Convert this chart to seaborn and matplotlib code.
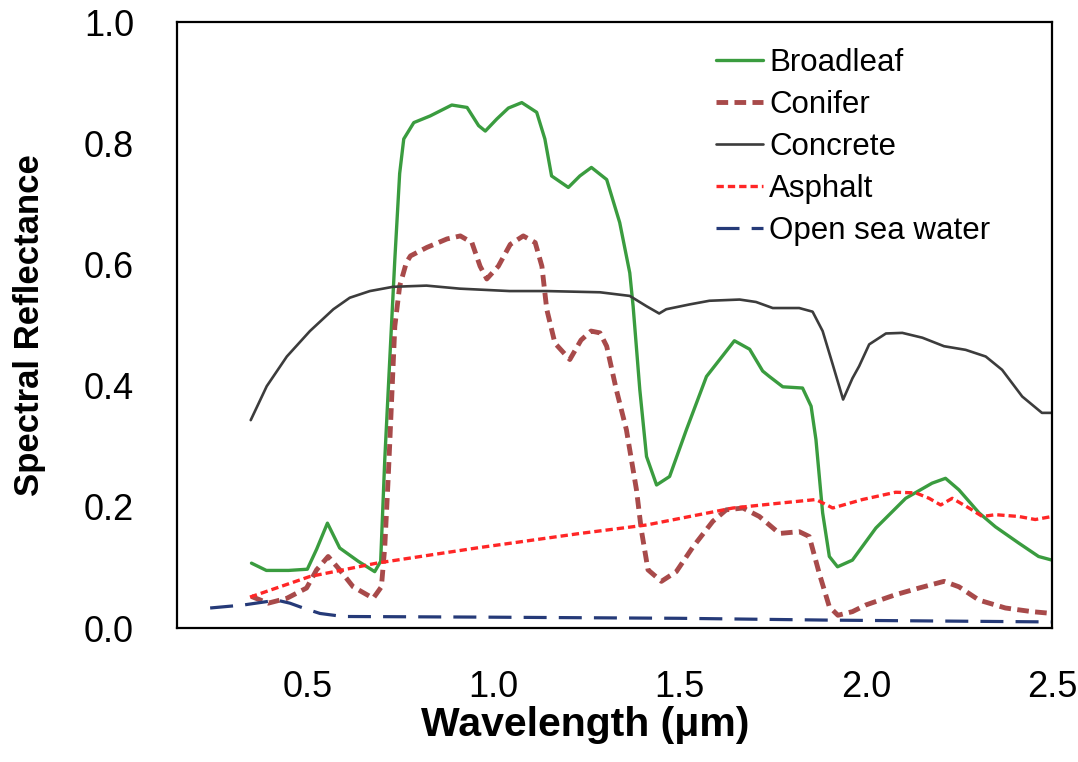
import matplotlib
matplotlib.use("Agg")
import matplotlib.pyplot as plt
import seaborn as sns
import numpy as np
import pandas as pd

# ---------------- data ----------------
broadleaf_x = [0.35, 0.39, 0.45, 0.50, 0.525, 0.554, 0.587, 0.637, 0.681, 0.697,
               0.708, 0.722, 0.735, 0.748, 0.759, 0.786, 0.830, 0.888, 0.929, 0.960,
               0.978, 1.009, 1.040, 1.076, 1.116, 1.138, 1.156, 1.201, 1.232, 1.263,
               1.304, 1.339, 1.366, 1.375, 1.393, 1.411, 1.438, 1.473, 1.518, 1.572,
               1.647, 1.688, 1.723, 1.741, 1.777, 1.830, 1.853, 1.866, 1.884, 1.902,
               1.924, 1.964, 2.027, 2.107, 2.178, 2.214, 2.250, 2.304, 2.348, 2.411,
               2.464, 2.500]
broadleaf_y = [0.107, 0.095, 0.095, 0.097, 0.130, 0.173, 0.132, 0.110, 0.093, 0.110,
               0.278, 0.450, 0.608, 0.750, 0.807, 0.834, 0.845, 0.863, 0.859, 0.829,
               0.820, 0.840, 0.858, 0.867, 0.851, 0.807, 0.746, 0.727, 0.746, 0.760,
               0.740, 0.669, 0.586, 0.531, 0.393, 0.283, 0.236, 0.250, 0.327, 0.415,
               0.474, 0.460, 0.424, 0.415, 0.398, 0.396, 0.366, 0.311, 0.190, 0.118,
               0.101, 0.112, 0.165, 0.214, 0.239, 0.247, 0.228, 0.190, 0.167, 0.140,
               0.118, 0.112]

conifer_x = [0.35, 0.395, 0.445, 0.498, 0.525, 0.556, 0.587, 0.623, 0.677, 0.699,
             0.708, 0.717, 0.721, 0.735, 0.748, 0.766, 0.777, 0.821, 0.875, 0.911,
             0.942, 0.964, 0.982, 1.013, 1.045, 1.080, 1.112, 1.130, 1.143, 1.165,
             1.205, 1.235, 1.262, 1.286, 1.304, 1.330, 1.357, 1.384, 1.397, 1.415,
             1.451, 1.491, 1.536, 1.589, 1.625, 1.670, 1.714, 1.768, 1.821, 1.848,
             1.875, 1.902, 1.925, 1.964, 2.000, 2.080, 2.143, 2.210, 2.250, 2.304,
             2.375, 2.446, 2.500]
conifer_y = [0.052, 0.041, 0.049, 0.066, 0.096, 0.118, 0.096, 0.068, 0.049, 0.068,
             0.134, 0.245, 0.300, 0.498, 0.564, 0.603, 0.614, 0.628, 0.642, 0.647,
             0.636, 0.597, 0.576, 0.597, 0.633, 0.647, 0.636, 0.597, 0.526, 0.470,
             0.443, 0.475, 0.490, 0.487, 0.465, 0.393, 0.327, 0.228, 0.162, 0.096,
             0.077, 0.093, 0.134, 0.176, 0.195, 0.198, 0.184, 0.156, 0.159, 0.151,
             0.090, 0.035, 0.021, 0.027, 0.038, 0.055, 0.066, 0.077, 0.068, 0.046,
             0.033, 0.027, 0.024]

concrete_x = [0.348, 0.391, 0.445, 0.507, 0.570, 0.614, 0.668, 0.730, 0.820, 0.909,
              1.043, 1.143, 1.286, 1.366, 1.411, 1.445, 1.464, 1.527, 1.580, 1.661,
              1.705, 1.750, 1.821, 1.857, 1.884, 1.911, 1.939, 1.964, 1.982, 2.009,
              2.054, 2.098, 2.152, 2.210, 2.268, 2.322, 2.366, 2.420, 2.473, 2.500]
concrete_y = [0.343, 0.399, 0.448, 0.490, 0.526, 0.545, 0.556, 0.563, 0.565, 0.560,
              0.556, 0.556, 0.554, 0.548, 0.531, 0.519, 0.526, 0.534, 0.540, 0.542,
              0.538, 0.528, 0.528, 0.522, 0.490, 0.435, 0.377, 0.412, 0.432, 0.468,
              0.486, 0.487, 0.479, 0.465, 0.459, 0.448, 0.426, 0.382, 0.355, 0.355]

asphalt_x = [0.346, 0.507, 0.686, 0.954, 1.232, 1.411, 1.643, 1.768, 1.866, 1.911,
             1.991, 2.080, 2.134, 2.170, 2.201, 2.232, 2.277, 2.313, 2.348, 2.411,
             2.455, 2.500]
asphalt_y = [0.051, 0.085, 0.107, 0.132, 0.156, 0.170, 0.198, 0.206, 0.212, 0.198,
             0.212, 0.224, 0.223, 0.214, 0.203, 0.214, 0.198, 0.184, 0.187, 0.184,
             0.179, 0.184]

sea_x = [0.239, 0.329, 0.418, 0.453, 0.489, 0.534, 0.596, 0.954, 1.500, 1.900, 2.500]
sea_y = [0.033, 0.038, 0.046, 0.041, 0.033, 0.024, 0.019, 0.018, 0.016, 0.013, 0.010]

series_names = ["Broadleaf", "Conifer", "Concrete", "Asphalt", "Open sea water"]
x_ticks = [0.5, 1.0, 1.5, 2.0, 2.5]
y_ticks = [0.0, 0.2, 0.4, 0.6, 0.8, 1.0]

# ---------------- styling ----------------
sns.set_style("white")
plt.rcParams['font.family'] = ['Liberation Sans', 'DejaVu Sans']
plt.rcParams['text.color'] = 'black'
plt.rcParams['axes.labelcolor'] = 'black'
plt.rcParams['xtick.color'] = 'black'
plt.rcParams['ytick.color'] = 'black'

fig = plt.figure(figsize=(10.78, 7.62), dpi=100)
W, H = 1078, 762
ax = fig.add_axes([177 / W, 1 - 628 / H, (1052 - 177) / W, (628 - 22) / H])

styles = {
    "Broadleaf": dict(color="#3a9c3f", lw=2.4, ls="-"),
    "Conifer": dict(color="#a84a4a", lw=3.5, ls=(0, (2.4, 1.3))),
    "Concrete": dict(color="#3c3c3c", lw=1.9, ls="-"),
    "Asphalt": dict(color="#ff2626", lw=2.4, ls=(0, (2.2, 1.2))),
    "Open sea water": dict(color="#253a78", lw=2.3, ls=(0, (7.2, 3.8))),
}
data = {
    "Broadleaf": (broadleaf_x, broadleaf_y),
    "Conifer": (conifer_x, conifer_y),
    "Concrete": (concrete_x, concrete_y),
    "Asphalt": (asphalt_x, asphalt_y),
    "Open sea water": (sea_x, sea_y),
}

for name in series_names:
    xs, ys = data[name]
    st = styles[name]
    df = pd.DataFrame({"x": xs, "y": ys})
    sns.lineplot(data=df, x="x", y="y", ax=ax, color=st["color"], linewidth=st["lw"],
                 linestyle=st["ls"], label=name, sort=False, estimator=None)

ax.set_xlim(0.15, 2.5)
ax.set_ylim(0.0, 1.0)
ax.set_xticks(x_ticks)
ax.set_xticklabels([f"{t:.1f}" for t in x_ticks])
ax.set_yticks(y_ticks)
ax.set_yticklabels([f"{t:.1f}" for t in y_ticks])

ax.tick_params(axis="both", direction="in", length=7, width=1.5, colors="black",
               labelsize=26)
ax.tick_params(axis="x", pad=30)
ax.tick_params(axis="y", pad=31)
for sp in ax.spines.values():
    sp.set_visible(True)
    sp.set_color("black")
    sp.set_linewidth(1.6)

ax.set_xlabel("Wavelength (μm)", fontsize=29.5, fontweight="bold", color="black")
ax.set_ylabel("Spectral Reflectance", fontsize=25, fontweight="bold", color="black")
ax.xaxis.set_label_coords((585 - 177) / 875, (628 - 706) / 606)
ax.yaxis.set_label_coords((46 - 177) / 875, 0.5)

leg = ax.legend(loc="upper left", bbox_to_anchor=(716 / W, 1 - 48 / H),
                bbox_transform=fig.transFigure, frameon=False, fontsize=22.5,
                handlelength=1.5, handletextpad=0.2, labelspacing=0.385, borderpad=0,
                borderaxespad=0)
for t in leg.get_texts():
    t.set_color("black")

fig.savefig("out.png", dpi=100)
